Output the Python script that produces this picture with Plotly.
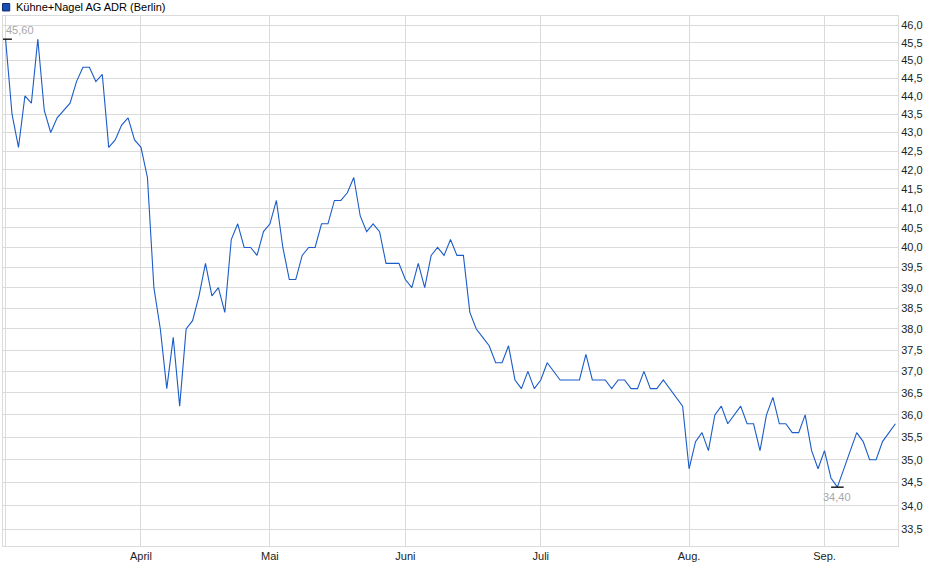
import math
import pandas as pd
import plotly.graph_objects as go

# Kursdaten (Schlusskurse, EUR), Handelstage Berlin 03.03.2025 - 16.09.2025
holidays = ["2025-04-18", "2025-04-21", "2025-05-01"]
days = pd.bdate_range("2025-03-03", "2025-09-16")
days = [d for d in days if d.strftime("%Y-%m-%d") not in holidays]
dates = [d.strftime("%Y-%m-%d") for d in days]

prices = [
    45.6, 43.5, 42.6, 44.0, 43.8, 45.6, 43.6, 43.0, 43.4, 43.6,
    43.8, 44.4, 44.8, 44.8, 44.4, 44.6, 42.6, 42.8, 43.2, 43.4,
    42.8, 42.6, 41.8, 39.0, 38.0, 36.6, 37.8, 36.2, 38.0, 38.2,
    38.8, 39.6, 38.8, 39.0, 38.4, 40.2, 40.6, 40.0, 40.0, 39.8,
    40.4, 40.6, 41.2, 40.0, 39.2, 39.2, 39.8, 40.0, 40.0, 40.6,
    40.6, 41.2, 41.2, 41.4, 41.8, 40.8, 40.4, 40.6, 40.4, 39.6,
    39.6, 39.6, 39.2, 39.0, 39.6, 39.0, 39.8, 40.0, 39.8, 40.2,
    39.8, 39.8, 38.4, 38.0, 37.8, 37.6, 37.2, 37.2, 37.6, 36.8,
    36.6, 37.0, 36.6, 36.8, 37.2, 37.0, 36.8, 36.8, 36.8, 36.8,
    37.4, 36.8, 36.8, 36.8, 36.6, 36.8, 36.8, 36.6, 36.6, 37.0,
    36.6, 36.6, 36.8, 36.6, 36.4, 36.2, 34.8, 35.4, 35.6, 35.2,
    36.0, 36.2, 35.8, 36.0, 36.2, 35.8, 35.8, 35.2, 36.0, 36.4,
    35.8, 35.8, 35.6, 35.6, 36.0, 35.2, 34.8, 35.2, 34.6, 34.4,
    34.8, 35.2, 35.6, 35.4, 35.0, 35.0, 35.4, 35.6, 35.8,
]

month_names = {3: "", 4: "April", 5: "Mai", 6: "Juni", 7: "Juli", 8: "Aug.", 9: "Sep."}
y_ticks = [33.5 + 0.5 * i for i in range(26)]

line_color = "#1b5cc8"
grid_color = "#dadada"

# erste Handelstage je Monat fuer die Monatslinien
month_first = []
seen = set()
for d in days:
    if d.month not in seen:
        seen.add(d.month)
        month_first.append(d)

fig = go.Figure()

fig.add_trace(go.Scatter(
    x=dates, y=prices, mode="lines",
    line=dict(color=line_color, width=1.1),
    hoverinfo="x+y",
))

# Hoch / Tief markieren
i_max = prices.index(max(prices))
i_min = prices.index(min(prices))
fig.add_trace(go.Scatter(
    x=[dates[i_max], dates[i_min]],
    y=[prices[i_max], prices[i_min]],
    mode="markers",
    marker=dict(symbol="line-ew", size=9, line=dict(width=1.3, color="black")),
    hoverinfo="skip",
))

fig.add_annotation(
    x=dates[i_max], y=math.log10(prices[i_max]),
    text=f"{prices[i_max]:.2f}".replace(".", ","),
    showarrow=False, xanchor="left", yanchor="bottom", xshift=-2, yshift=1,
    font=dict(size=11, color="#a8a8a8"),
)
fig.add_annotation(
    x=dates[i_min], y=math.log10(prices[i_min]),
    text=f"{prices[i_min]:.2f}".replace(".", ","),
    showarrow=False, xanchor="center", yanchor="top", yshift=-2,
    font=dict(size=11, color="#a8a8a8"),
)

# Legende oben links
fig.add_shape(
    type="rect", xref="paper", yref="paper",
    x0=-0.0005, x1=0.0075, y0=1.0095, y1=1.0235,
    fillcolor="#1b4fb8", line=dict(color="#0b2a6a", width=1),
)
fig.add_annotation(
    xref="paper", yref="paper", x=0.0125, y=1.0165,
    text="Kühne+Nagel AG ADR (Berlin)",
    showarrow=False, xanchor="left", yanchor="middle",
    font=dict(size=11, color="black"),
)

fig.update_layout(
    width=940, height=579,
    margin=dict(l=3, r=42, t=16, b=33),
    paper_bgcolor="white", plot_bgcolor="white",
    showlegend=False,
    font=dict(family="Liberation Sans, Arial, sans-serif", size=11, color="#222222"),
)

fig.update_xaxes(
    type="category",
    range=[-0.4, len(dates) - 0.6],
    tickmode="array",
    tickvals=[d.strftime("%Y-%m-%d") for d in month_first],
    ticktext=[month_names[d.month] for d in month_first],
    showgrid=True, gridcolor=grid_color, gridwidth=1,
    showline=True, linecolor=grid_color, mirror=True,
    ticks="", zeroline=False,
)

fig.update_yaxes(
    type="log",
    range=[math.log10(33.15), math.log10(46.27)],
    side="right",
    tickmode="array",
    tickvals=y_ticks,
    ticktext=[f"{v:.1f}".replace(".", ",") for v in y_ticks],
    showgrid=True, gridcolor=grid_color, gridwidth=1,
    showline=True, linecolor=grid_color, mirror=True,
    ticks="", zeroline=False,
)

# Seitenrand des Browsers entfernen, damit die Grafik bei 0/0 beginnt
fig.write_html(
    "out.html",
    config={"displayModeBar": False},
    post_script="document.body.style.margin='0';document.body.style.padding='0';",
)
